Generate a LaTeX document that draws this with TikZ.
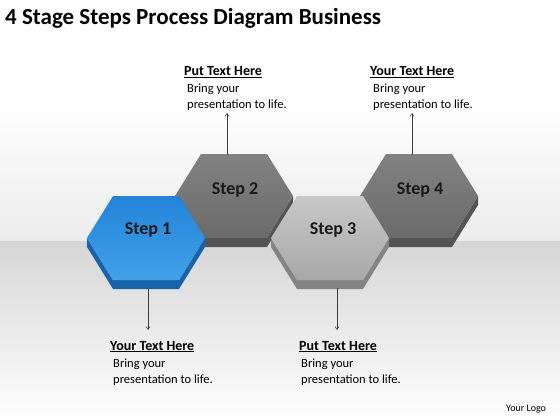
\documentclass[tikz,border=0pt]{standalone}
\usepackage{fontspec}
\setmainfont{Carlito}
\usetikzlibrary{arrows.meta}
\definecolor{bluetop}{RGB}{34,132,218}
\definecolor{bluebot}{RGB}{66,160,232}
\definecolor{blueside}{RGB}{24,100,172}
\definecolor{dgtop}{RGB}{130,130,130}
\definecolor{dgbot}{RGB}{106,106,106}
\definecolor{dgside}{RGB}{84,84,84}
\definecolor{lgtop}{RGB}{200,200,200}
\definecolor{lgbot}{RGB}{168,168,168}
\definecolor{lgside}{RGB}{132,132,132}
\definecolor{steptext}{RGB}{25,25,25}
\definecolor{arrowcol}{RGB}{60,60,60}
\newcommand\hexdraw[5]{%
  % #1 cx, #2 cy, #3 face top, #4 face bottom, #5 side
  \fill[#5] ({#1-59},{#2}) -- ({#1-59},{#2+9}) -- ({#1-33},{#2+51}) -- ({#1+33},{#2+51})
     -- ({#1+59},{#2+9}) -- ({#1+59},{#2}) -- ({#1+33},{#2+42}) -- ({#1-33},{#2+42}) -- cycle;
  \shade[top color=#3,bottom color=#4] ({#1-59},{#2}) -- ({#1-33},{#2-42}) -- ({#1+33},{#2-42})
     -- ({#1+59},{#2}) -- ({#1+33},{#2+42}) -- ({#1-33},{#2+42}) -- cycle;
}
\begin{document}
\begin{tikzpicture}[x=1pt,y=-1pt,
  steplabel/.style={font=\fontsize{18}{20}\selectfont\bfseries, text=steptext, inner sep=0pt},
  headtext/.style={font=\fontsize{14}{16}\selectfont\bfseries, anchor=base west, inner sep=0pt},
  bodytext/.style={font=\fontsize{12.5}{15.5}\selectfont, anchor=north west, align=left, inner sep=0pt},
  conn/.style={draw=arrowcol, line width=0.5pt, -{Straight Barb[length=3pt,width=4pt]}}]
\useasboundingbox (0,0) rectangle (560,420);
% background
\shade[top color=white, bottom color=white] (0,0) rectangle (560,100);
\shade[top color=white, bottom color={rgb,255:red,236;green,236;blue,236}] (0,100) rectangle (560,241);
\shade[top color={rgb,255:red,214;green,214;blue,214}, bottom color=white] (0,241) rectangle (560,420);
% title
\node[anchor=base west, inner sep=0pt, font=\fontsize{23}{26}\selectfont\bfseries] (title) at (5,25) {4 Stage Steps Process Diagram Business};
% hexagons (back row first)
\hexdraw{234}{196}{dgtop}{dgbot}{dgside}
\hexdraw{419}{196}{dgtop}{dgbot}{dgside}
\hexdraw{146}{238}{bluetop}{bluebot}{blueside}
\hexdraw{330}{238}{lgtop}{lgbot}{lgside}
\node[steplabel] (s1) at (148,230) {Step 1};
\node[steplabel] (s2) at (235,190) {Step 2};
\node[steplabel] (s3) at (333,230) {Step 3};
\node[steplabel] (s4) at (420,190) {Step 4};
% connector anchors
\coordinate (h1b) at (148,289);
\coordinate (h2t) at (227,155);
\coordinate (h3b) at (337,288);
\coordinate (h4t) at (412,155);
\coordinate (e1) at (148,330);
\coordinate (e2) at (227,113);
\coordinate (e3) at (337,330);
\coordinate (e4) at (412,113);
\draw[conn] (h1b) -- (e1);
\draw[conn] (h2t) -- (e2);
\draw[conn] (h3b) -- (e3);
\draw[conn] (h4t) -- (e4);
% text blocks
\node[headtext] (t2) at (184,76) {\underline{Put Text Here}};
\node[bodytext] (b2) at (187,84) {Bring your\\presentation to life.};
\node[headtext] (t4) at (370,76) {\underline{Your Text Here}};
\node[bodytext] (b4) at (373,84) {Bring your\\presentation to life.};
\node[headtext] (t1) at (110,350) {\underline{Your Text Here}};
\node[bodytext] (b1) at (113,359) {Bring your\\presentation to life.};
\node[headtext] (t3) at (299,350) {\underline{Put Text Here}};
\node[bodytext] (b3) at (301,359) {Bring your\\presentation to life.};
\node[anchor=base west, inner sep=0pt, font=\fontsize{10}{12}\selectfont] (logo) at (506,411) {Your Logo};
\end{tikzpicture}
\end{document}
